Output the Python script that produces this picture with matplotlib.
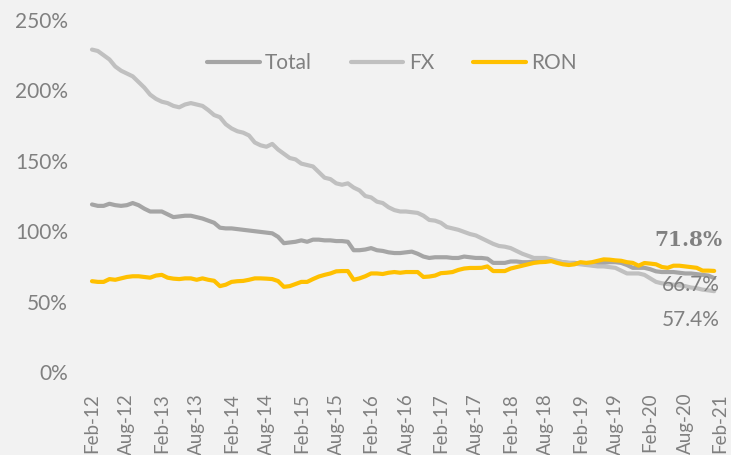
import numpy as np
import matplotlib
matplotlib.use("Agg")
import matplotlib.pyplot as plt

# monthly, Feb-12 .. Jan-21 (ratio, %)
fx = [229, 228, 225, 222, 217, 214, 212, 210, 206, 202,
      197, 194, 192, 191, 189, 188, 190, 191, 190, 189,
      186, 182.5, 181, 176, 173, 171, 170, 168, 163, 161,
      160, 162, 158, 155, 152, 151, 148, 147, 146, 142,
      138, 137, 134, 133, 134, 131, 129, 125, 124, 121,
      120, 117, 115, 114, 114, 113.5, 113, 111, 108, 107.5,
      106, 103, 102, 101, 99.5, 98, 97, 95, 93, 91,
      89.5, 89, 88, 86, 84, 82.5, 81, 81, 81, 80,
      79, 78, 77.5, 77, 76.5, 76, 75.5, 75, 75, 74.5,
      74, 72, 70, 70, 70, 69, 66.5, 64, 63, 62.5,
      62, 61.5, 61, 60, 59.5, 58.5, 58, 57.4]
total = [119, 118, 118, 119.5, 118.5, 118, 118.5, 120, 118.5, 116,
         114, 114, 114, 112, 110, 110.5, 111, 111, 110, 109,
         107.5, 106, 102.5, 102, 102, 101.5, 101, 100.5, 100, 99.5,
         99, 98.5, 96, 91.5, 92, 92.5, 93.5, 92.5, 94, 94,
         93.5, 93.5, 93, 93, 92.5, 86.5, 86.5, 87, 88, 86.5,
         86, 85, 84.5, 84.5, 85, 85.5, 84, 82, 81, 81.5,
         81.5, 81.5, 81, 81, 82, 81.5, 81, 81, 80.5, 77.5,
         77.5, 77.5, 78.5, 78.5, 78, 78, 78.5, 79.5, 79.5, 79,
         78.5, 78, 77.5, 77.5, 77, 76.5, 76, 77, 77.5, 78,
         78, 77.5, 76, 74, 74, 74, 73, 71.5, 71, 71,
         71, 70.5, 70, 70, 69.5, 69, 68.5, 66.7]
ron = [64.5, 64, 64, 66, 65.5, 66.5, 67.5, 68, 68, 67.5,
       67, 68.5, 69, 67, 66.3, 66, 66.5, 66.5, 65.5, 66.5,
       65.5, 64.8, 61, 62, 64, 64.5, 64.7, 65.5, 66.5, 66.5,
       66.3, 66, 64.6, 60.5, 61, 62.5, 64, 64, 66, 67.8,
       69, 70, 71.5, 71.7, 71.7, 65.5, 66.5, 68, 70, 70,
       69.6, 70.5, 71, 70.5, 71, 71, 71, 67.5, 67.8, 68.5,
       70.2, 70.5, 71, 72.5, 73.5, 73.9, 73.9, 74, 75, 71.7,
       71.7, 71.7, 73.5, 74.5, 75.5, 76.5, 77.5, 78, 78.2, 78.8,
       77.5, 76.5, 76, 76.5, 78, 77.5, 78, 79, 80, 79.8,
       79.3, 79, 78, 77.5, 75.5, 77.4, 77, 76.5, 74.6, 74,
       75.5, 75.5, 75, 74.5, 74, 72, 72, 71.8]

tick_labels = ["Feb-12", "Aug-12", "Feb-13", "Aug-13", "Feb-14", "Aug-14",
               "Feb-15", "Aug-15", "Feb-16", "Aug-16", "Feb-17", "Aug-17",
               "Feb-18", "Aug-18", "Feb-19", "Aug-19", "Feb-20", "Aug-20",
               "Feb-21"]
end_labels = ["71.8%", "66.7%", "57.4%"]

plt.rcParams['font.family'] = ['Lato', 'DejaVu Sans']
bg = '#f2f2f2'
txt = '#808080'

fig = plt.figure(figsize=(7.31, 4.55), dpi=100, facecolor=bg)
ax = fig.add_axes([0.1179, 0.1824, 0.875, 0.7736], facecolor=bg)

x = np.arange(len(fx))
ax.plot(x, total, color='#a5a5a5', lw=3, label='Total', solid_capstyle='round')
ax.plot(x, fx, color='#c0c0c0', lw=3, label='FX', solid_capstyle='round')
ax.plot(x, ron, color='#ffc000', lw=3, label='RON', solid_capstyle='round')

ax.set_xlim(-1, 109)
ax.set_ylim(0, 250)
ax.set_yticks(np.arange(0, 251, 50))
ax.set_yticklabels([f'{v}%' for v in range(0, 251, 50)])
ax.set_xticks(np.arange(0, 109, 6))
ax.set_xticklabels(tick_labels, rotation=90, va='top', ha='center')
ax.tick_params(axis='both', length=0, colors=txt)
ax.tick_params(axis='y', pad=13, labelsize=15)
ax.tick_params(axis='x', pad=15, labelsize=13.5)
for s in ax.spines.values():
    s.set_visible(False)

ax.text(108.5, 93.5, end_labels[0], ha='right', va='center', fontsize=14.5,
        color=txt, fontweight='bold', family='DejaVu Serif')
ax.text(108, 62, end_labels[1], ha='right', va='center', fontsize=15, color=txt)
ax.text(108, 37, end_labels[2], ha='right', va='center', fontsize=15, color=txt)

leg = ax.legend(loc='upper center', bbox_to_anchor=(0.478, 0.96), ncol=3,
                frameon=False, fontsize=15, handlelength=2.5,
                handletextpad=0.25, columnspacing=1.9)
for t in leg.get_texts():
    t.set_color(txt)

fig.savefig('out.png', dpi=100, facecolor=bg)
